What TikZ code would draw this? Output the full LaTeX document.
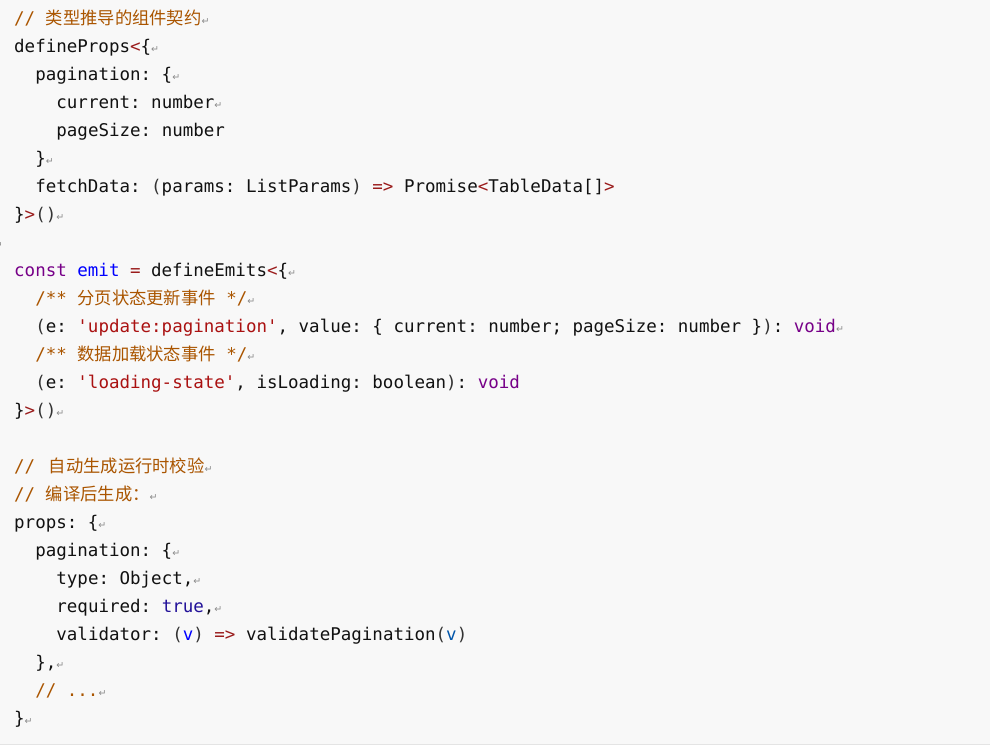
\documentclass[tikz,border=0pt]{standalone}
\usepackage{fontspec}
\setmonofont{DejaVu Sans Mono}
\newfontfamily\cjkfont{Noto Sans CJK SC}
\newfontfamily\rtfont{DejaVu Sans}
\definecolor{bgc}{HTML}{F8F8F8}
\definecolor{edgec}{HTML}{E4E4E4}
\definecolor{txt}{HTML}{111111}
\definecolor{cmtc}{HTML}{AA5500}
\definecolor{kwc}{HTML}{770088}
\definecolor{opc}{HTML}{9A1B1B}
\definecolor{strc}{HTML}{AA1111}
\definecolor{defc}{HTML}{0000FF}
\definecolor{atc}{HTML}{221199}
\definecolor{vtc}{HTML}{0055AA}
\definecolor{pnc}{HTML}{333333}
\definecolor{rtc}{HTML}{8A8A8A}
\newcommand\Ccm[1]{\textcolor{cmtc}{#1}}
\newcommand\Ckw[1]{\textcolor{kwc}{#1}}
\newcommand\Cop[1]{\textcolor{opc}{#1}}
\newcommand\Cst[1]{\textcolor{strc}{#1}}
\newcommand\Cdf[1]{\textcolor{defc}{#1}}
\newcommand\Cat[1]{\textcolor{atc}{#1}}
\newcommand\Cvt[1]{\textcolor{vtc}{#1}}
\newcommand\Cpn[1]{\textcolor{pnc}{#1}}
\newcommand\CJ[1]{{\cjkfont\fontsize{17.3}{20}\selectfont #1}}
\newcommand\RT{{\rtfont\fontsize{9.5}{10}\selectfont\textcolor{rtc}{↵}}}
\tikzset{codeline/.style={inner sep=0pt, anchor=base west, text=txt,
  font=\ttfamily\fontsize{17.5}{20}\selectfont\frenchspacing}}
\newcommand\Ln[3]{\node[codeline] (l#1) at ({14+10.55*#2},{24.5+28*#1}) {#3};}
\begin{document}
\begin{tikzpicture}[x=1pt,y=-1pt]
\useasboundingbox (0,0) rectangle (990,747);
\fill[white] (0,0) rectangle (990,747);
\fill[bgc] (0,0) rectangle (990,744);
\draw[edgec, line width=1pt] (0,744.5) -- (990,744.5);
\Ln{0}{0}{\Ccm{// \CJ{类型推导的组件契约}}\RT}
\Ln{1}{0}{defineProps\Cop{<}\{\RT}
\Ln{2}{2}{pagination: \{\RT}
\Ln{3}{4}{current: number\RT}
\Ln{4}{4}{pageSize: number}
\Ln{5}{2}{\}\RT}
\Ln{6}{2}{fetchData: \Cpn{(}params: ListParams\Cpn{)} \Cop{=>} Promise\Cop{<}TableData[]\Cop{>}}
\Ln{7}{0}{\}\Cop{>}\Cpn{()}\RT}
\node[codeline, anchor=base east] (l8) at (3,{24.5+28*8}) {\RT};
\Ln{9}{0}{\Ckw{const} \Cdf{emit} \Cop{=} defineEmits\Cop{<}\{\RT}
\Ln{10}{2}{\Ccm{/** \CJ{分页状态更新事件} */}\RT}
\Ln{11}{2}{\Cpn{(}e: \Cst{'update:pagination'}, value: \{ current: number; pageSize: number \}\Cpn{)}: \Ckw{void}\RT}
\Ln{12}{2}{\Ccm{/** \CJ{数据加载状态事件} */}\RT}
\Ln{13}{2}{\Cpn{(}e: \Cst{'loading-state'}, isLoading: boolean\Cpn{)}: \Ckw{void}}
\Ln{14}{0}{\}\Cop{>}\Cpn{()}\RT}
\Ln{16}{0}{\Ccm{//\hspace{3pt} \CJ{自动生成运行时校验}}\RT}
\Ln{17}{0}{\Ccm{// \CJ{编译后生成：}}\RT}
\Ln{18}{0}{props: \{\RT}
\Ln{19}{2}{pagination: \{\RT}
\Ln{20}{4}{type: Object,\RT}
\Ln{21}{4}{required: \Cat{true},\RT}
\Ln{22}{4}{validator: \Cpn{(}\Cdf{v}\Cpn{)} \Cop{=>} validatePagination\Cpn{(}\Cvt{v}\Cpn{)}}
\Ln{23}{2}{\},\RT}
\Ln{24}{2}{\Ccm{// ...}\RT}
\Ln{25}{0}{\}\RT}
\end{tikzpicture}
\end{document}
